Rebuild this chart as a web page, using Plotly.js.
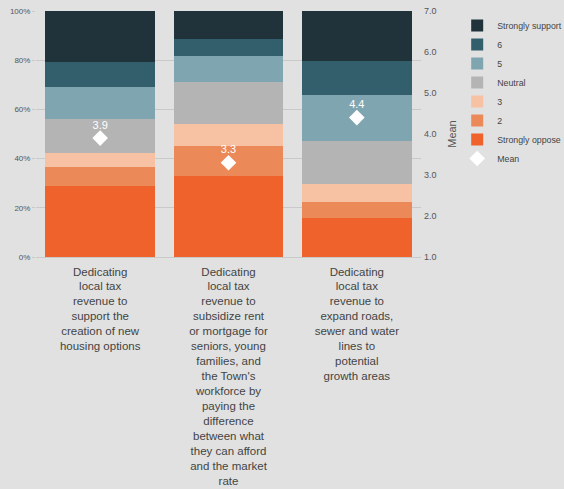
<!DOCTYPE html>
<html>
<head>
<meta charset="utf-8">
<script src="https://cdn.plot.ly/plotly-3.0.1.min.js"></script>
<style>html,body{margin:0;padding:0;background:#e1e1e1;}</style>
</head>
<body>
<div id="chart" style="width:564px;height:489px;"></div>
<script>
const categories = ["Support new housing", "Subsidize rent or mortgage", "Expand roads, sewer and water"];
const tickLabels = [
  "Dedicating<br>local tax<br>revenue to<br>support the<br>creation of new<br>housing options",
  "Dedicating<br>local tax<br>revenue to<br>subsidize rent<br>or mortgage for<br>seniors, young<br>families, and<br>the Town's<br>workforce by<br>paying the<br>difference<br>between what<br>they can afford<br>and the market<br>rate",
  "Dedicating<br>local tax<br>revenue to<br>expand roads,<br>sewer and water<br>lines to<br>potential<br>growth areas"
];
// Percent of responses, bottom (Strongly oppose) to top (Strongly support)
const seriesNames = ["Strongly oppose", "2", "3", "Neutral", "5", "6", "Strongly support"];
const stronglyOppose = [29.0, 33.0, 15.9];
const two = [7.5, 12.1, 6.6];
const three = [5.7, 9.0, 7.3];
const neutral = [14.0, 17.0, 17.5];
const five = [13.0, 10.7, 18.4];
const six = [10.0, 6.7, 13.8];
const stronglySupport = [20.8, 11.5, 20.5];
const means = [3.9, 3.3, 4.4];
const meanLabels = ["3.9", "3.3", "4.4"];
const pctTickVals = [0, 20, 40, 60, 80, 100];
const pctTickText = ["0%", "20%", "40%", "60%", "80%", "100%"];
const meanTickVals = [1, 2, 3, 4, 5, 6, 7];
const meanTickText = ["1.0", "2.0", "3.0", "4.0", "5.0", "6.0", "7.0"];

const seriesValues = [stronglyOppose, two, three, neutral, five, six, stronglySupport];
const colors = ["#f0622c", "#eb8a58", "#f7c1a3", "#b4b4b4", "#7fa5b0", "#335e6b", "#20333a"];
const FONT = "Liberation Sans, Arial, sans-serif";

const traces = [];
traces.push({
  type: "scatter", mode: "markers", name: "Mean",
  x: categories, y: means, yaxis: "y2",
  marker: {symbol: "diamond", color: "#ffffff", size: 12, line: {width: 0}},
  hoverinfo: "skip"
});
seriesNames.forEach((n, i) => {
  traces.push({
    type: "bar", name: n, x: categories, y: seriesValues[i],
    marker: {color: colors[i], line: {width: 0}},
    hoverinfo: "skip"
  });
});
traces.push({
  type: "scatter", mode: "markers+text", showlegend: false,
  x: categories, y: means, yaxis: "y2",
  marker: {size: 9, opacity: 0},
  text: meanLabels, textposition: "top center",
  textfont: {family: FONT, size: 11, color: "#ffffff"},
  hoverinfo: "skip", cliponaxis: false
});

const layout = {
  width: 564, height: 489,
  margin: {l: 36, r: 143, t: 11, b: 232, autoexpand: false},
  paper_bgcolor: "#e1e1e1", plot_bgcolor: "#e1e1e1",
  font: {family: FONT, color: "#555555"},
  barmode: "stack", bargap: 0.144,
  showlegend: true,
  legend: {
    x: 1.094, xanchor: "left", y: 1.0, yanchor: "top",
    font: {family: FONT, size: 8.8, color: "#444444"}, bgcolor: "rgba(0,0,0,0)",
    traceorder: "reversed"
  },
  xaxis: {
    tickmode: "array", tickvals: categories, ticktext: tickLabels,
    tickfont: {family: FONT, size: 11.5, color: "#444444"}, showgrid: false, zeroline: false,
    showline: false, ticks: "", ticklabelstandoff: 6
  },
  yaxis: {
    range: [0, 100], tickmode: "array", tickvals: pctTickVals, ticktext: pctTickText,
    tickfont: {family: FONT, size: 8, color: "#555555"}, gridcolor: "#c9c9c9", gridwidth: 1,
    zeroline: true, zerolinecolor: "#c9c9c9", showline: false,
    ticks: "outside", ticklen: 3, tickcolor: "#c9c9c9"
  },
  yaxis2: {
    overlaying: "y", side: "right", range: [1, 7],
    tickmode: "array", tickvals: meanTickVals, ticktext: meanTickText,
    tickfont: {family: FONT, size: 9, color: "#555555"}, showgrid: false, zeroline: false,
    ticks: "", ticklabelstandoff: 2,
    title: {text: "Mean", font: {family: FONT, size: 11, color: "#555555"}, standoff: 12}
  }
};

Plotly.newPlot("chart", traces, layout, {displayModeBar: false, staticPlot: true});
</script>
</body>
</html>
